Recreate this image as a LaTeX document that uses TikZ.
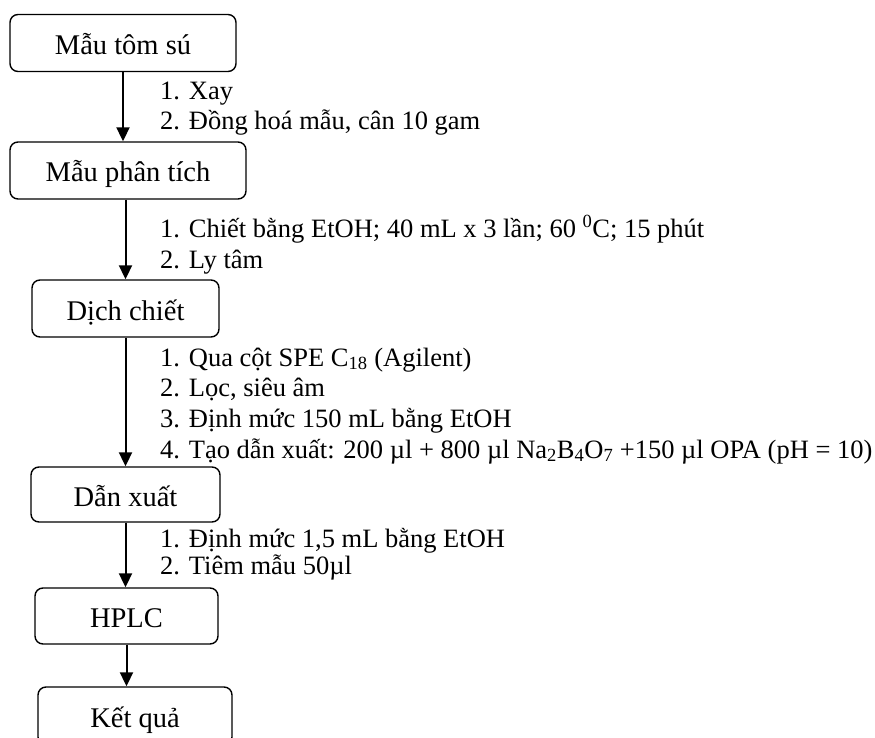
\documentclass[tikz,border=0pt]{standalone}
\usepackage{fontspec}
\setmainfont{Liberation Serif}
\usetikzlibrary{arrows.meta}
\begin{document}
\begin{tikzpicture}[x=1pt,y=-1pt,
    box/.style={draw, rounded corners=8pt, line width=1.4pt, inner sep=0pt,
      text height=27pt, text depth=4pt, font=\fontsize{28.5}{34}\selectfont},
    note/.style={anchor=base west, inner sep=0pt, font=\fontsize{26.5}{30}\selectfont},
    flow/.style={line width=2pt, -{Triangle[length=14pt,width=13pt]}}]
    \useasboundingbox (0,0) rectangle (875,738);
    % boxes
    \node[box, minimum width=226pt, minimum height=57pt] (b1) at (123,43) {Mẫu tôm sú};
    \node[box, minimum width=236pt, minimum height=57pt] (b2) at (128,170.5) {Mẫu phân tích};
    \node[box, minimum width=187pt, minimum height=57pt] (b3) at (125.5,308.5) {Dịch chiết};
    \node[box, minimum width=189pt, minimum height=55pt] (b4) at (125.5,494.5) {Dẫn xuất};
    \node[box, minimum width=183pt, minimum height=56pt] (b5) at (126.5,616) {HPLC};
    \node[box, minimum width=194pt, minimum height=58pt] (b6) at (135,716) {Kết quả};
    % arrows
    \draw[flow] (b1) -- (b1 |- b2.north);
    \draw[flow] (b2.south -| b3) -- (b3);
    \draw[flow] (b3) -- (b3 |- b4.north);
    \draw[flow] (b4) -- (b4 |- b5.north);
    \draw[flow] (b5) -- (b5 |- b6.north);
    % steps
    \node[note] (n11) at (160,100) {1. Xay};
    \node[note] (n12) at (160,130) {2. Đồng hoá mẫu, cân 10 gam};
    \node[note] (n21) at (160,237) {1. Chiết bằng EtOH; 40 mL x 3 lần; 60 \textsuperscript{0}C; 15 phút};
    \node[note] (n22) at (160,268) {2. Ly tâm};
    \node[note] (n31) at (160,366) {1. Qua cột SPE C\textsubscript{18} (Agilent)};
    \node[note] (n32) at (160,396) {2. Lọc, siêu âm};
    \node[note] (n33) at (160,427) {3. Định mức 150 mL bằng EtOH};
    \node[note] (n34) at (160,458) {4. Tạo dẫn xuất: 200 µl + 800 µl Na\textsubscript{2}B\textsubscript{4}O\textsubscript{7} +150 µl OPA (pH = 10)};
    \node[note] (n41) at (160,547) {1. Định mức 1,5 mL bằng EtOH};
    \node[note] (n42) at (160,574) {2. Tiêm mẫu 50µl};
\end{tikzpicture}
\end{document}
